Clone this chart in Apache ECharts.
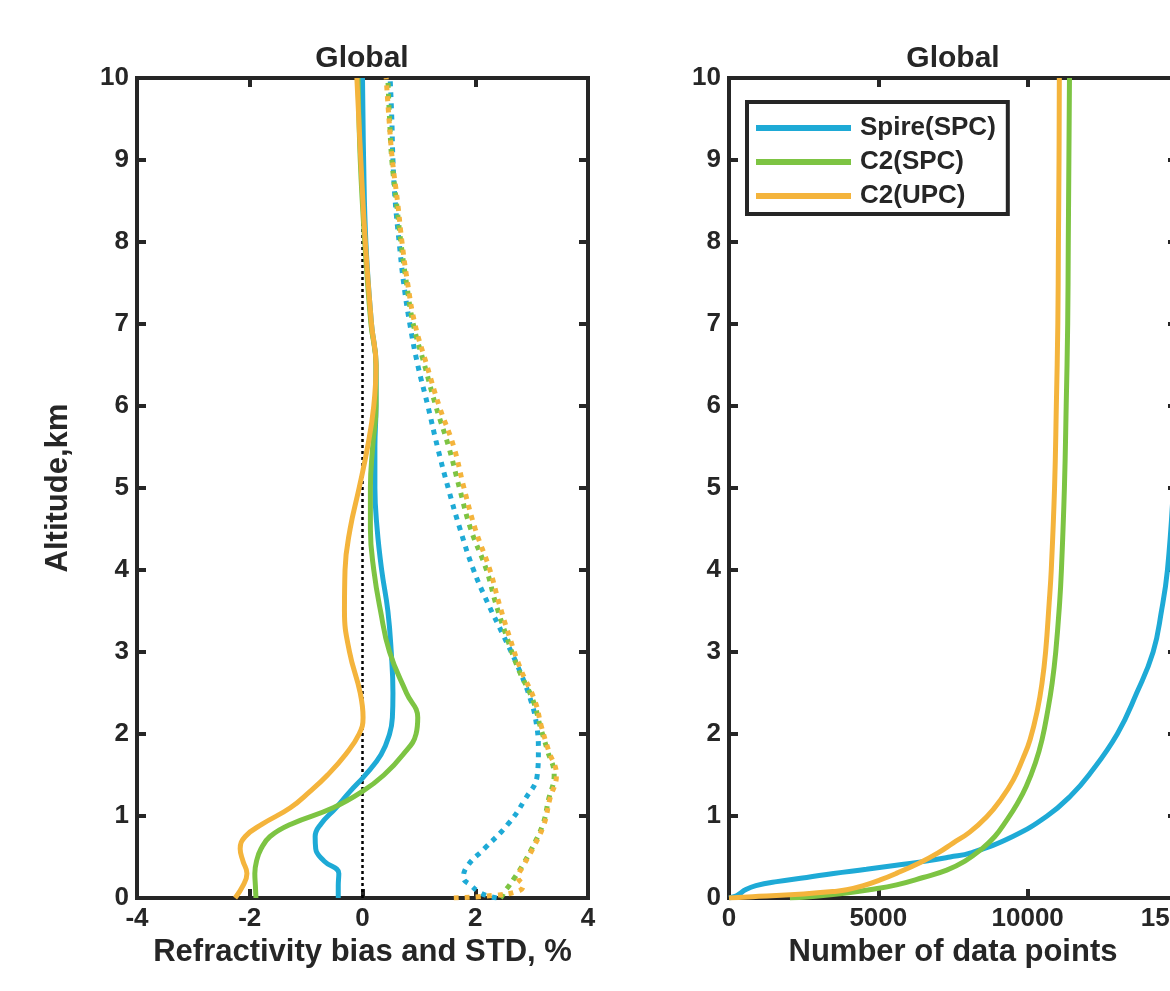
<!DOCTYPE html>
<html>
<head>
<meta charset="utf-8">
<script src="https://cdn.jsdelivr.net/npm/echarts@6/dist/echarts.min.js"></script>
<style>
html,body{margin:0;padding:0;background:#fff;}
#chart{width:1170px;height:991px;}
</style>
</head>
<body>
<div id="chart"></div>
<script>
// ---------- data ----------
// Left panel: refractivity bias (solid) and STD (dotted), %
const altBias = [0, 0.15, 0.3, 0.45, 0.6, 0.75, 0.9, 1.1, 1.3, 1.5, 1.75, 2.0, 2.2, 2.5, 3.0, 3.5, 4.0, 4.5, 5.0, 5.5, 6.0, 6.5, 7.0, 8.0, 9.0, 10.0];
const spireBias = [-0.43, -0.43, -0.42, -0.68, -0.83, -0.84, -0.74, -0.47, -0.22, 0.05, 0.33, 0.48, 0.53, 0.54, 0.51, 0.45, 0.34, 0.26, 0.22, 0.22, 0.24, 0.24, 0.16, 0.06, 0.02, 0.0];
const c2spcBias = [-1.89, -1.90, -1.91, -1.88, -1.80, -1.64, -1.27, -0.52, 0.0, 0.38, 0.72, 0.95, 0.98, 0.78, 0.48, 0.32, 0.20, 0.14, 0.14, 0.18, 0.24, 0.24, 0.15, 0.04, -0.04, -0.08];
const c2upcBias = [-2.26, -2.12, -2.05, -2.12, -2.17, -2.08, -1.78, -1.28, -0.93, -0.62, -0.30, -0.06, 0.01, -0.04, -0.23, -0.32, -0.31, -0.22, -0.06, 0.09, 0.20, 0.24, 0.16, 0.05, -0.03, -0.10];

const altStd = [0, 0.03, 0.08, 0.15, 0.25, 0.4, 0.6, 0.9, 1.2, 1.5, 1.8, 2.1, 2.4, 2.8, 3.2, 3.6, 4.0, 4.5, 5.0, 5.5, 6.0, 6.5, 7.0, 7.5, 8.0, 8.5, 9.0, 9.5, 10.0];
const spireStd = [2.38, 2.20, 2.05, 1.93, 1.79, 1.87, 2.16, 2.58, 2.88, 3.10, 3.12, 3.09, 2.99, 2.77, 2.50, 2.22, 1.97, 1.73, 1.52, 1.33, 1.16, 0.98, 0.84, 0.73, 0.65, 0.58, 0.54, 0.52, 0.49];
const c2spcStd = [2.45, 2.48, 2.52, 2.60, 2.70, 2.84, 3.00, 3.20, 3.30, 3.40, 3.28, 3.15, 3.03, 2.76, 2.55, 2.36, 2.20, 1.92, 1.72, 1.53, 1.30, 1.10, 0.90, 0.78, 0.68, 0.60, 0.52, 0.48, 0.45];
const c2upcStd = [1.62, 2.30, 2.75, 2.85, 2.76, 2.86, 3.02, 3.22, 3.32, 3.44, 3.30, 3.17, 3.06, 2.80, 2.60, 2.42, 2.26, 2.00, 1.80, 1.62, 1.36, 1.14, 0.93, 0.80, 0.70, 0.62, 0.53, 0.47, 0.42];

const zeroLineX = [0, 0];
const zeroLineAlt = [0, 10];

// Right panel: number of data points
const altSpireCount = [0, 0.02, 0.05, 0.1, 0.15, 0.2, 0.25, 0.3, 0.35, 0.4, 0.45, 0.5, 0.55, 0.75, 1.0, 1.25, 1.5, 2.0, 2.5, 3.0, 3.5, 4.0, 5.0, 6.0, 7.0, 8.0, 9.0, 10.0];
const spireCount = [0, 200, 350, 550, 900, 1600, 2600, 3500, 4600, 5600, 6600, 7400, 8100, 9500, 10650, 11450, 12050, 13000, 13650, 14200, 14480, 14680, 14880, 15000, 15080, 15120, 15150, 15170];
const altC2spcCount = [0, 0.02, 0.06, 0.1, 0.16, 0.25, 0.34, 0.45, 0.58, 0.75, 0.95, 1.15, 1.36, 1.65, 1.93, 2.3, 2.62, 3.0, 3.6, 4.0, 5.0, 6.0, 7.0, 8.0, 9.0, 10.0];
const c2spcCount = [2040, 2900, 3940, 4700, 5610, 6500, 7290, 7900, 8400, 8900, 9300, 9650, 9950, 10260, 10480, 10680, 10820, 10940, 11070, 11130, 11230, 11290, 11340, 11360, 11380, 11400];
const altC2upcCount = [0, 0.02, 0.05, 0.08, 0.1, 0.15, 0.22, 0.3, 0.43, 0.55, 0.67, 0.8, 0.99, 1.2, 1.44, 1.7, 1.93, 2.3, 2.62, 3.0, 3.6, 4.0, 5.0, 6.0, 7.0, 8.0, 9.0, 10.0];
const c2upcCount = [0, 1000, 2500, 3500, 3940, 4500, 5060, 5600, 6390, 7000, 7500, 8050, 8630, 9100, 9520, 9840, 10080, 10330, 10480, 10600, 10720, 10790, 10900, 10960, 11010, 11030, 11050, 11060];

const seriesNames = ['Spire(SPC)', 'C2(SPC)', 'C2(UPC)'];
const panelTitles = ['Global', 'Global'];
const biasTicks = { min: -4, max: 4, interval: 2 };
const countTicks = { min: 0, max: 15000, interval: 5000 };
const altTicks = { min: 0, max: 10, interval: 1 };

// ---------- styling ----------
const COLORS = ['#1eaad6', '#7dc443', '#f4b43c'];
const INK = '#262626';
const FONT = '"Liberation Sans", Arial, Helvetica, sans-serif';

function pairs(xs, ys) { return xs.map((x, i) => [x, ys[i]]); }

const tickStyle = { show: true, inside: true, length: 9, lineStyle: { color: INK, width: 4 } };
const labelStyle = { color: INK, fontSize: 26, fontWeight: 'bold', fontFamily: FONT, margin: 8, formatter: v => String(v) };
const nameStyle = { color: INK, fontSize: 31, fontWeight: 'bold', fontFamily: FONT };

function xAx(grid, rng, pos, name) {
  const a = {
    type: 'value', gridIndex: grid, position: pos,
    min: rng.min, max: rng.max, interval: rng.interval,
    axisLine: { show: false, onZero: false },
    axisTick: tickStyle,
    splitLine: { show: false },
    axisLabel: pos === 'bottom' ? Object.assign({ show: true }, labelStyle) : { show: false }
  };
  if (name) { a.name = name; a.nameLocation = 'middle'; a.nameGap = 30; a.nameTextStyle = nameStyle; }
  return a;
}
function yAx(grid, rng, pos, name) {
  const a = {
    type: 'value', gridIndex: grid, position: pos,
    min: rng.min, max: rng.max, interval: rng.interval,
    axisLine: { show: false, onZero: false },
    axisTick: tickStyle,
    splitLine: { show: false },
    axisLabel: (pos === 'left') ? Object.assign({ show: true }, labelStyle) : { show: false }
  };
  if (name) { a.name = name; a.nameLocation = 'middle'; a.nameGap = 63; a.nameRotate = 90; a.nameTextStyle = nameStyle; }
  return a;
}

function lineSeries(name, data, color, xi, yi, dotted) {
  return {
    type: 'line', name: name, data: data, xAxisIndex: xi, yAxisIndex: yi,
    smooth: 0.45, showSymbol: false, symbol: 'none', silent: true, animation: false,
    lineStyle: dotted
      ? { color: color, width: 5, type: [5, 6], cap: 'butt' }
      : { color: color, width: 5 },
    itemStyle: { color: color },
    clip: true
  };
}

const chart = echarts.init(document.getElementById('chart'), null, { renderer: 'canvas' });

const option = {
  backgroundColor: '#ffffff',
  animation: false,
  title: [
    { text: panelTitles[0], left: 362, top: 44, textAlign: 'center', padding: 0,
      textStyle: { color: INK, fontSize: 30, fontWeight: 'bold', fontFamily: FONT } },
    { text: panelTitles[1], left: 953, top: 44, textAlign: 'center', padding: 0,
      textStyle: { color: INK, fontSize: 30, fontWeight: 'bold', fontFamily: FONT } }
  ],
  legend: {
    data: seriesNames.map((n, i) => ({ name: n, icon: 'rect', itemStyle: { color: COLORS[i] } })),
    orient: 'vertical', left: 747, top: 102,
    padding: [13, 12, 5, 9],
    itemWidth: 95, itemHeight: 6, itemGap: 8,
    backgroundColor: '#ffffff', borderColor: INK, borderWidth: 4,
    selectedMode: false,
    textStyle: { color: INK, fontSize: 26, fontWeight: 'bold', fontFamily: FONT, padding: [0, 0, 0, 4] }
  },
  grid: [
    { left: 137, right: 1170 - 588, top: 78, bottom: 991 - 898, outerBoundsMode: 'none', containLabel: false,
      show: true, borderColor: INK, borderWidth: 4, backgroundColor: 'transparent' },
    { left: 729, right: 1170 - 1177, top: 78, bottom: 991 - 898, outerBoundsMode: 'none', containLabel: false,
      show: true, borderColor: INK, borderWidth: 4, backgroundColor: 'transparent' }
  ],
  xAxis: [
    xAx(0, biasTicks, 'bottom', 'Refractivity bias and STD, %'),
    xAx(0, biasTicks, 'top'),
    xAx(1, countTicks, 'bottom', 'Number of data points'),
    xAx(1, countTicks, 'top')
  ],
  yAxis: [
    yAx(0, altTicks, 'left', 'Altitude,km'),
    yAx(0, altTicks, 'right'),
    yAx(1, altTicks, 'left'),
    yAx(1, altTicks, 'right')
  ],
  series: [
    { type: 'line', name: 'zero', data: pairs(zeroLineX, zeroLineAlt), xAxisIndex: 0, yAxisIndex: 0,
      showSymbol: false, symbol: 'none', silent: true, z: 1,
      lineStyle: { color: '#000', width: 2.5, type: [3, 3] } },
    lineSeries('Spire(SPC) STD', pairs(spireStd, altStd), COLORS[0], 0, 0, true),
    lineSeries('C2(SPC) STD', pairs(c2spcStd, altStd), COLORS[1], 0, 0, true),
    lineSeries('C2(UPC) STD', pairs(c2upcStd, altStd), COLORS[2], 0, 0, true),
    lineSeries('Spire(SPC) bias', pairs(spireBias, altBias), COLORS[0], 0, 0, false),
    lineSeries('C2(SPC) bias', pairs(c2spcBias, altBias), COLORS[1], 0, 0, false),
    lineSeries('C2(UPC) bias', pairs(c2upcBias, altBias), COLORS[2], 0, 0, false),
    lineSeries(seriesNames[0], pairs(spireCount, altSpireCount), COLORS[0], 2, 2, false),
    lineSeries(seriesNames[1], pairs(c2spcCount, altC2spcCount), COLORS[1], 2, 2, false),
    lineSeries(seriesNames[2], pairs(c2upcCount, altC2upcCount), COLORS[2], 2, 2, false)
  ]
};
chart.setOption(option);
</script>
</body>
</html>
